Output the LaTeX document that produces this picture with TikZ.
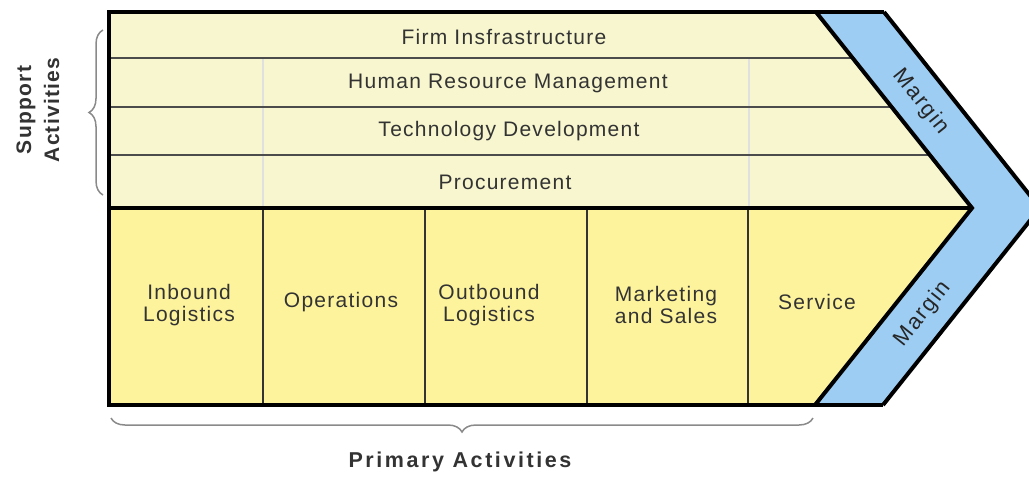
\documentclass[tikz,border=0pt]{standalone}
\usepackage{fontspec}
\setmainfont{Liberation Sans}
\newfontfamily\lblfont[LetterSpace=6]{Liberation Sans}
\newfontfamily\marfont[LetterSpace=8]{Liberation Sans}
\newfontfamily\prifont[LetterSpace=12]{Liberation Sans}
\usetikzlibrary{decorations.pathreplacing}
\definecolor{supfill}{HTML}{F7F6CF}
\definecolor{prifill}{HTML}{FDF39D}
\definecolor{marfill}{HTML}{9DCDF3}
\definecolor{txt}{HTML}{333333}
\definecolor{bracecol}{HTML}{8A8A8A}
\begin{document}
\begin{tikzpicture}[x=1pt,y=-1pt,
  lbl/.style={font=\lblfont\fontsize{21}{22}\selectfont, text=txt, align=center, inner sep=0pt},
  marlbl/.style={font=\marfont\fontsize{22}{22}\selectfont, text=black!85, align=center, inner sep=0pt},
  suplbl/.style={font=\lblfont\bfseries\fontsize{21}{28}\selectfont, text=txt, align=center, inner sep=0pt},
  prilbl/.style={font=\prifont\bfseries\fontsize{21.5}{26}\selectfont, text=txt, align=center, inner sep=0pt},
  frame/.style={line width=4pt, line join=miter},
  rowline/.style={line width=2pt, draw=black!70},
  coldiv/.style={line width=1.4pt, draw=black!80},
  faintdiv/.style={line width=1.4pt, draw=black!12},
  bracestyle/.style={draw=bracecol, line width=1.5pt, decorate, decoration={brace, amplitude=14pt}}]
\useasboundingbox (0,0) rectangle (1029,477);
% key points
\coordinate (TL) at (109,12);
\coordinate (TI) at (816,12);
\coordinate (TO) at (884,12);
\coordinate (TIP) at (972,208);
\coordinate (TIPO) at (1040,208);
\coordinate (BL) at (109,405);
\coordinate (BI) at (815,405);
\coordinate (BO) at (883,405);
\coordinate (ML) at (109,208);
% fills
\fill[supfill] (TL) -- (TI) -- (TIP) -- (ML) -- cycle;
\fill[prifill] (ML) -- (TIP) -- (BI) -- (BL) -- cycle;
\begin{scope}
\clip (0,0) rectangle (1029,477);
\fill[marfill] (TI) -- (TO) -- (TIPO) -- (BO) -- (BI) -- (TIP) -- cycle;
\draw[frame] (TO) -- (TIPO) -- (BO);
\end{scope}
% support rows
\draw[faintdiv] (263,58) -- (263,208);
\draw[faintdiv] (749,58) -- (749,208);
\draw[rowline] (109,58) -- (852.6,58);
\draw[rowline] (109,107) -- (891.6,107);
\draw[rowline] (109,155) -- (929.8,155);
% primary columns
\draw[coldiv] (263,208) -- (263,405);
\draw[coldiv] (425,208) -- (425,405);
\draw[coldiv] (587,208) -- (587,405);
\draw[coldiv] (748,208) -- (748,405);
% frame lines
\draw[frame] (ML) -- (TIP);
\draw[frame] (TI) -- (TIP) -- (BI);
\draw[frame] (BO) -- (BL) -- (TL) -- (TO);
% support texts
\node[lbl] (firm) at (504,37) {Firm Insfrastructure};
\node[lbl] (hrm) at (508,83) {Human Resource Management};
\node[lbl] (tech) at (509,131) {Technology Development};
\node[lbl] (proc) at (505,182) {Procurement};
% primary texts
\node[lbl] (inb) at (189,305) {Inbound\\Logistics};
\node[lbl] (ops) at (341,302) {Operations};
\node[lbl] (outb) at (489,305) {Outbound\\Logistics};
\node[lbl] (mkt) at (666,305) {Marketing\\and Sales};
\node[lbl] (svc) at (817,302) {Service};
% margin texts
\node[marlbl, rotate=-51.5] (mar1) at (921,102) {Margin};
\node[marlbl, rotate=51.5] (mar2) at (923,314) {Margin};
% braces
\coordinate (lbA) at (103,195);
\coordinate (lbB) at (103,30);
\draw[bracestyle] (lbA) -- (lbB);
\coordinate (bbA) at (813,418);
\coordinate (bbB) at (111,418);
\draw[bracestyle] (bbA) -- (bbB);
\node[suplbl, rotate=90] (sup) at (38,110) {Support\\Activities};
\node[prilbl] (pri) at (460,462) {Primary Activities};
\end{tikzpicture}
\end{document}
